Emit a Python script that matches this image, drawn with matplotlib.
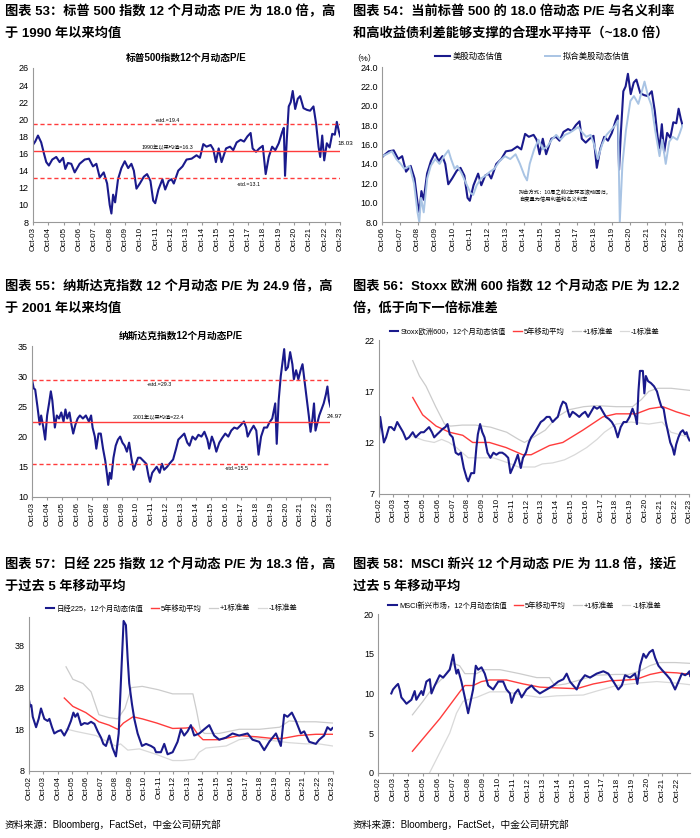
import numpy as np
import matplotlib
matplotlib.use("Agg")
import matplotlib.pyplot as plt

plt.rcParams['font.family'] = ['Liberation Sans', 'Noto Sans CJK SC', 'DejaVu Sans']
plt.rcParams['axes.unicode_minus'] = False

NAVY = '#1a1a8c'
RED = '#ff3c3c'
GREY = '#cccccc'
LBLUE = '#a9c4e4'

# ---------------- data (decimal years) ----------------
# S&P 500 12m forward P/E
spx_t = [2003.75, 2003.90, 2004.08, 2004.29, 2004.47, 2004.62, 2004.79, 2005.01, 2005.27, 2005.49,
         2005.71, 2005.86, 2006.03, 2006.25, 2006.47, 2006.79, 2007.12, 2007.40, 2007.66, 2007.88,
         2008.10, 2008.36, 2008.58, 2008.75, 2008.86, 2008.97, 2009.10, 2009.29, 2009.51, 2009.73,
         2009.95, 2010.16, 2010.32, 2010.49, 2010.71, 2010.97, 2011.18, 2011.40, 2011.58, 2011.71,
         2011.92, 2012.18, 2012.36, 2012.58, 2012.77, 2012.92, 2013.21, 2013.49, 2013.75, 2014.08,
         2014.40, 2014.62, 2014.84, 2015.05, 2015.32, 2015.49, 2015.66, 2015.84, 2016.03, 2016.32,
         2016.58, 2016.79, 2017.01, 2017.27, 2017.49, 2017.71, 2017.92, 2018.05, 2018.27, 2018.49,
         2018.71, 2018.90, 2019.10, 2019.32, 2019.53, 2019.75, 2019.97, 2020.08, 2020.16, 2020.27,
         2020.40, 2020.53, 2020.66, 2020.82, 2020.99, 2021.14, 2021.36, 2021.58, 2021.79, 2022.01,
         2022.18, 2022.34, 2022.45, 2022.58, 2022.71, 2022.88, 2023.06, 2023.23, 2023.40, 2023.53,
         2023.66, 2023.75]
spx_pe = [17.0, 17.4, 18.1, 17.3, 16.0, 15.0, 14.6, 15.3, 15.6, 15.0,
          15.5, 14.2, 14.9, 14.8, 13.8, 14.8, 15.3, 15.4, 14.5, 14.8,
          13.2, 13.8, 12.5, 10.0, 9.0, 11.2, 10.3, 13.0, 14.3, 15.1,
          14.3, 14.8, 14.0, 11.9, 12.5, 13.3, 13.6, 12.8, 10.5, 10.2,
          11.8, 13.0, 11.8, 12.8, 13.0, 12.5, 14.0, 14.5, 15.3, 15.4,
          15.8, 15.5, 17.1, 16.8, 17.0, 16.5, 15.0, 16.6, 15.0, 16.6,
          16.8, 16.4, 17.3, 17.6, 17.4, 18.0, 18.4, 16.6, 16.2, 16.6,
          16.9, 13.6, 15.6, 16.8, 16.4, 17.2, 18.5, 19.0, 13.4, 17.5,
          21.5, 22.0, 23.3, 21.2, 22.4, 22.7, 21.3, 21.1, 21.0, 21.5,
          19.5, 16.8, 15.6, 18.1, 15.2, 17.2, 16.7, 18.3, 18.2, 19.7,
          18.6, 18.0]
spx_lines = [19.4, 16.3, 13.1]

# fitted S&P 500 P/E
fit_t = [2006.75, 2007.0, 2007.3, 2007.55, 2007.8, 2008.0, 2008.3, 2008.55, 2008.75, 2008.85,
         2008.95, 2009.1, 2009.3, 2009.5, 2009.75, 2010.0, 2010.25, 2010.5, 2010.65, 2010.85,
         2011.0, 2011.25, 2011.5, 2011.75, 2011.9, 2012.1, 2012.35, 2012.6, 2012.85, 2013.1,
         2013.4, 2013.7, 2014.0, 2014.3, 2014.55, 2014.8, 2014.95, 2015.1, 2015.35, 2015.6,
         2015.85, 2016.1, 2016.35, 2016.6, 2016.85, 2017.1, 2017.35, 2017.6, 2017.85, 2018.05,
         2018.3, 2018.55, 2018.75, 2018.95, 2019.2, 2019.45, 2019.7, 2019.95, 2020.1, 2020.2,
         2020.35, 2020.55, 2020.8, 2021.0, 2021.25, 2021.45, 2021.6, 2021.8, 2022.0, 2022.2,
         2022.45, 2022.6, 2022.8, 2023.0, 2023.2, 2023.45, 2023.6, 2023.75]
fit_pe = [14.8, 15.0, 15.3, 14.5, 14.0, 13.5, 13.8, 12.0, 9.0, 8.0,
          10.5, 9.0, 12.5, 13.8, 14.5, 14.0, 14.8, 15.4, 14.5, 13.5,
          13.8, 13.0, 12.0, 11.0, 10.8, 11.8, 12.5, 12.8, 13.2, 13.5,
          14.3, 14.8, 14.5, 15.0, 14.0, 12.8, 12.3, 14.0, 15.5, 16.5,
          15.5, 15.8, 16.5, 17.0, 16.5, 17.0, 17.2, 17.5, 17.8, 17.3,
          16.8, 17.0, 16.0, 14.5, 16.0, 17.0, 17.5, 18.0, 18.5, 8.0,
          14.0, 17.5, 20.5, 21.0, 20.2, 21.5, 22.5, 21.0, 20.0, 17.5,
          14.8, 16.5, 14.0, 16.3, 16.8, 16.5, 17.2, 18.0]

# Nasdaq 12m forward P/E
ndq_t = [2003.75, 2003.85, 2003.95, 2004.1, 2004.25, 2004.35, 2004.5, 2004.62, 2004.75, 2004.88,
         2005.0, 2005.1, 2005.27, 2005.4, 2005.55, 2005.7, 2005.85, 2005.98, 2006.1, 2006.25,
         2006.38, 2006.5, 2006.65, 2006.8, 2006.95, 2007.15, 2007.35, 2007.55, 2007.7, 2007.8,
         2007.95, 2008.05, 2008.2, 2008.35, 2008.5, 2008.65, 2008.78, 2008.85, 2008.95, 2009.05,
         2009.2, 2009.35, 2009.5, 2009.65, 2009.8, 2009.95, 2010.1, 2010.25, 2010.4, 2010.55,
         2010.7, 2010.85, 2011.0, 2011.2, 2011.4, 2011.55, 2011.65, 2011.8, 2011.95, 2012.1,
         2012.3, 2012.45, 2012.6, 2012.8, 2012.95, 2013.2, 2013.4, 2013.55, 2013.75, 2013.95,
         2014.15, 2014.3, 2014.5, 2014.7, 2014.9, 2015.1, 2015.3, 2015.5, 2015.62, 2015.8,
         2015.95, 2016.1, 2016.3, 2016.5, 2016.7, 2016.9, 2017.1, 2017.3, 2017.5, 2017.7,
         2017.95, 2018.1, 2018.2, 2018.4, 2018.6, 2018.78, 2018.93, 2019.1, 2019.3, 2019.5,
         2019.65, 2019.85, 2020.05, 2020.15, 2020.28, 2020.42, 2020.55, 2020.65, 2020.75, 2020.9,
         2021.05, 2021.2, 2021.3, 2021.45, 2021.6, 2021.75, 2021.88, 2022.0, 2022.15, 2022.3,
         2022.42, 2022.55, 2022.65, 2022.75, 2022.9, 2023.0, 2023.15, 2023.3, 2023.45, 2023.55,
         2023.65, 2023.75]
ndq_pe = [29.3, 28.0, 27.8, 25.0, 22.0, 23.5, 21.5, 19.5, 23.5, 25.5,
          27.5, 26.0, 21.5, 23.5, 23.0, 24.0, 22.5, 24.5, 23.0, 24.0,
          22.0, 20.5, 22.0, 23.0, 23.5, 23.0, 23.5, 22.5, 23.5, 21.5,
          20.0, 18.0, 20.5, 20.5, 18.0, 16.0, 13.5, 12.0, 14.0, 13.0,
          16.5, 18.5, 19.5, 20.0, 19.0, 18.5, 17.5, 19.0, 16.5, 14.5,
          15.5, 16.5, 16.5, 16.0, 15.5, 13.5, 12.5, 14.0, 14.5, 15.0,
          14.0, 15.5, 14.5, 15.0, 15.5, 16.2, 18.0, 19.5, 20.0, 20.5,
          19.0, 18.5, 20.0, 19.5, 20.3, 20.0, 20.8, 19.5, 18.0, 20.0,
          19.0, 17.5, 19.0, 19.8, 20.5, 20.0, 21.0, 21.5, 21.3, 21.8,
          22.5, 21.5, 20.0, 21.0, 21.8, 21.0, 17.0, 20.0, 21.5, 21.5,
          22.3, 23.0, 25.5, 18.8, 26.0, 30.0, 32.5, 34.5, 31.0, 31.5,
          34.0, 32.0, 29.5, 31.0, 29.5, 31.0, 32.0, 29.5, 26.5, 23.5,
          20.8, 23.0, 25.5, 21.0, 22.5, 23.5, 24.5, 25.5, 27.0, 28.3,
          26.0, 24.97]
ndq_lines = [29.3, 22.4, 15.5]

# Stoxx Europe 600
sxx_t = [2002.75, 2002.85, 2002.95, 2003.1, 2003.25, 2003.45, 2003.6, 2003.8, 2004.0, 2004.2,
         2004.4, 2004.6, 2004.8, 2005.05, 2005.25, 2005.45, 2005.6, 2005.8, 2006.15, 2006.35,
         2006.5, 2006.7, 2006.85, 2007.05, 2007.25, 2007.4, 2007.55, 2007.75, 2007.95, 2008.15,
         2008.3, 2008.5, 2008.7, 2008.8, 2009.0, 2009.2, 2009.35, 2009.45, 2009.6, 2009.75,
         2009.9, 2010.1, 2010.3, 2010.5, 2010.7, 2010.9, 2011.1, 2011.3, 2011.5, 2011.65,
         2011.8, 2011.95, 2012.15, 2012.35, 2012.5, 2012.7, 2012.9, 2013.05, 2013.3, 2013.5,
         2013.7, 2013.9, 2014.1, 2014.3, 2014.5, 2014.7, 2014.85, 2015.05, 2015.2, 2015.4,
         2015.55, 2015.65, 2015.85, 2016.05, 2016.3, 2016.5, 2016.7, 2016.9, 2017.1, 2017.3,
         2017.5, 2017.7, 2017.9, 2018.1, 2018.3, 2018.5, 2018.7, 2018.9, 2019.1, 2019.3,
         2019.5, 2019.7, 2019.9, 2020.1, 2020.2, 2020.3, 2020.4, 2020.6, 2020.7, 2020.8,
         2020.95, 2021.15, 2021.35, 2021.55, 2021.7, 2021.85, 2022.0, 2022.15, 2022.3, 2022.45,
         2022.6, 2022.72, 2022.85, 2023.0, 2023.15, 2023.3, 2023.45, 2023.55, 2023.65, 2023.75]
sxx_pe = [12.3, 14.5, 13.5, 12.0, 12.5, 13.5, 13.5, 13.2, 14.0, 13.5,
          13.0, 12.3, 12.5, 13.0, 12.5, 12.8, 13.0, 13.0, 13.5, 13.0,
          12.5, 12.8, 13.0, 13.3, 13.5, 13.8, 12.8, 12.5, 11.0, 10.8,
          11.0, 9.5, 8.5, 8.2, 9.0, 9.0, 11.5, 12.8, 13.8, 13.0,
          12.5, 11.0, 10.5, 11.0, 10.8, 11.0, 11.0, 10.8, 10.5, 9.0,
          9.5, 10.0, 10.8, 9.5, 10.5, 11.0, 12.0, 12.5, 13.0, 13.5,
          14.0, 14.2, 14.5, 14.5, 14.0, 14.3, 14.5, 15.5, 16.0, 15.8,
          15.0, 14.5, 15.0, 14.8, 14.5, 14.8, 15.0, 14.5, 15.0, 15.5,
          15.3, 15.5, 15.0, 14.5, 14.3, 14.0, 13.5, 12.5, 13.5, 14.0,
          14.0, 14.5, 15.3, 14.5, 13.8, 17.0, 19.0, 19.0, 16.8, 18.5,
          18.0, 17.8, 17.5, 17.0, 16.2, 15.5, 15.3, 14.0, 13.0, 12.0,
          11.5, 10.8, 11.8, 12.5, 13.0, 13.2, 12.8, 13.0, 12.5, 12.2]
sxx_ma_t = [2005.05, 2005.72, 2006.63, 2007.53, 2008.43, 2009.1, 2010.23, 2011.36, 2012.48, 2013.05,
            2014.29, 2015.19, 2016.54, 2017.89, 2018.79, 2020.14, 2021.05, 2021.95, 2022.85, 2023.75]
sxx_ma = [16.4, 14.7, 13.6, 13.0, 12.7, 12.0, 12.0, 11.5, 10.8, 10.8,
          11.7, 12.0, 13.2, 14.5, 14.8, 14.8, 15.3, 15.5, 15.0, 14.6]
sxx_up_t = [2005.05, 2005.5, 2005.95, 2006.6, 2007.2, 2007.6, 2008.4, 2009.3, 2010.3, 2011.4,
            2012.2, 2012.6, 2013.2, 2014.0, 2014.8, 2015.6, 2016.6, 2017.5, 2018.8, 2019.9,
            2020.5, 2021.0, 2021.6, 2022.5, 2023.75]
sxx_up = [20.0, 18.5, 17.5, 15.5, 13.8, 13.6, 13.7, 13.7, 13.5, 13.0,
          12.3, 12.0, 12.5, 13.2, 14.5, 15.2, 15.5, 15.6, 15.5, 15.5,
          16.2, 17.0, 17.3, 17.3, 17.1]
sxx_dn_t = [2005.05, 2005.8, 2006.5, 2007.0, 2007.5, 2008.0, 2008.8, 2009.5, 2010.5, 2011.5,
            2012.2, 2013.3, 2013.8, 2014.5, 2015.3, 2016.0, 2016.8, 2017.5, 2018.0, 2018.8,
            2019.8, 2020.4, 2021.0, 2021.9, 2022.5, 2023.0, 2023.75]
sxx_dn = [12.6, 12.2, 12.0, 12.3, 12.0, 11.5, 10.5, 10.5, 10.5, 10.0,
          9.6, 9.6, 9.9, 10.0, 10.3, 10.8, 11.5, 12.3, 13.0, 13.8,
          14.0, 13.9, 13.8, 14.0, 13.0, 12.8, 12.5]

# Nikkei 225
nky_t = [2002.75, 2002.84, 2002.93, 2003.03, 2003.26, 2003.44, 2003.6, 2003.83, 2004.06, 2004.18,
         2004.36, 2004.52, 2004.75, 2004.98, 2005.21, 2005.44, 2005.67, 2005.84, 2005.97, 2006.13,
         2006.37, 2006.6, 2006.83, 2007.06, 2007.29, 2007.52, 2007.75, 2007.91, 2008.09, 2008.32,
         2008.55, 2008.78, 2008.97, 2009.13, 2009.31, 2009.47, 2009.59, 2009.7, 2009.89, 2010.05,
         2010.28, 2010.58, 2010.86, 2011.2, 2011.43, 2011.55, 2011.89, 2012.12, 2012.35, 2012.7,
         2013.04, 2013.27, 2013.5, 2013.73, 2013.96, 2014.19, 2014.54, 2014.88, 2015.23, 2015.57,
         2015.92, 2016.38, 2016.84, 2017.3, 2017.88, 2018.22, 2018.68, 2019.03, 2019.38, 2019.84,
         2020.18, 2020.41, 2020.64, 2020.94, 2021.22, 2021.56, 2021.79, 2022.14, 2022.6, 2022.83,
         2023.17, 2023.4, 2023.63, 2023.75]
nky_pe = [25.5, 23.5, 23.8, 21.0, 18.5, 20.5, 23.0, 20.5, 20.0, 20.5,
          18.5, 17.0, 17.5, 17.8, 16.5, 18.0, 20.0, 22.0, 21.0, 21.8,
          19.0, 19.5, 19.3, 19.8, 19.3, 17.5, 16.0, 14.5, 14.0, 16.5,
          13.5, 11.5, 17.0, 30.0, 44.0, 43.0, 35.0, 29.0, 24.0, 20.5,
          17.0, 14.0, 14.5, 14.0, 13.5, 12.5, 12.5, 14.5, 12.0, 12.5,
          15.0, 18.0, 16.5, 17.5, 19.0, 16.5, 17.0, 18.0, 19.0, 16.5,
          15.5, 16.0, 17.0, 16.5, 17.0, 15.5, 15.0, 13.0, 15.0, 17.0,
          14.0, 21.5, 21.0, 22.0, 20.0, 17.0, 17.5, 15.0, 14.5, 15.5,
          16.5, 18.5, 17.8, 18.3]
nky_ma_t = [2005.21, 2005.8, 2006.7, 2007.6, 2008.3, 2008.9, 2009.3, 2009.96, 2010.6, 2011.6,
            2012.7, 2013.6, 2014.1, 2014.5, 2014.8, 2015.9, 2017.3, 2018.5, 2019.6, 2020.3,
            2021.4, 2022.6, 2023.75]
nky_ma = [25.5, 23.5, 22.0, 19.8, 19.0, 18.0, 19.5, 21.0, 20.5, 19.5,
          18.2, 18.3, 18.5, 16.5, 15.5, 15.5, 16.5, 16.2, 15.8, 15.8,
          16.5, 16.8, 16.8]
nky_up_t = [2005.33, 2005.8, 2006.5, 2007.06, 2007.6, 2008.3, 2008.9, 2009.4, 2009.85, 2010.6,
            2011.7, 2012.7, 2013.5, 2014.1, 2014.35, 2014.6, 2014.9, 2015.9, 2017.3, 2018.7,
            2020.1, 2020.75, 2021.45, 2022.6, 2023.75]
nky_up = [33.0, 30.0, 29.0, 27.0, 21.5, 20.8, 20.5, 23.0, 28.0, 28.3,
          27.5, 26.5, 26.5, 26.5, 22.5, 18.0, 17.0, 17.0, 18.0, 18.0,
          18.5, 20.0, 19.8, 19.8, 19.5]
nky_dn_t = [2005.33, 2006.0, 2006.7, 2007.4, 2008.3, 2008.75, 2009.1, 2009.6, 2010.4, 2011.55,
            2012.7, 2013.4, 2014.2, 2014.54, 2015.0, 2016.4, 2017.3, 2018.2, 2019.6, 2020.7,
            2021.9, 2022.8, 2023.75]
nky_dn = [18.1, 17.5, 17.0, 16.5, 14.8, 14.0, 14.5, 13.0, 13.3, 12.0,
          10.5, 10.5, 10.8, 12.5, 13.5, 14.0, 15.5, 16.0, 15.3, 14.8,
          14.5, 14.5, 14.0]

# MSCI EM
em_t = [2003.64, 2003.75, 2003.98, 2004.09, 2004.2, 2004.31, 2004.53, 2004.65, 2004.98, 2005.2,
        2005.31, 2005.65, 2005.76, 2005.98, 2006.21, 2006.32, 2006.54, 2006.87, 2007.1, 2007.32,
        2007.54, 2007.77, 2007.88, 2007.99, 2008.1, 2008.32, 2008.55, 2008.77, 2008.88, 2009.1,
        2009.28, 2009.44, 2009.66, 2009.88, 2010.11, 2010.44, 2010.78, 2011.11, 2011.33, 2011.56,
        2011.67, 2011.89, 2012.11, 2012.34, 2012.67, 2013.01, 2013.23, 2013.56, 2014.01, 2014.46,
        2014.79, 2015.13, 2015.35, 2015.57, 2015.79, 2016.02, 2016.24, 2016.57, 2016.91, 2017.35,
        2017.8, 2018.13, 2018.47, 2018.8, 2019.03, 2019.25, 2019.58, 2019.92, 2020.07, 2020.25,
        2020.48, 2020.65, 2020.88, 2021.1, 2021.26, 2021.48, 2021.7, 2022.04, 2022.26, 2022.59,
        2022.82, 2023.04, 2023.26, 2023.42, 2023.55, 2023.6]
em_pe = [10.0, 10.5, 11.0, 11.2, 10.5, 9.5, 9.0, 8.7, 9.2, 10.3,
         9.2, 10.3, 9.8, 11.5, 11.8, 10.0, 11.0, 12.3, 12.0, 12.5,
         13.0, 14.9, 13.5, 12.5, 13.0, 11.5, 9.5, 7.5, 8.5, 10.5,
         13.5, 13.0, 13.3, 12.5, 11.0, 10.5, 11.5, 11.5, 10.5, 10.0,
         8.8, 10.0, 10.5, 9.5, 10.5, 11.0, 10.5, 10.0, 10.5, 11.0,
         11.5, 11.8, 12.5, 11.5, 11.0, 10.5, 11.5, 12.3, 12.0, 12.5,
         12.8, 12.5, 11.5, 10.5, 11.0, 12.3, 12.0, 12.5, 11.2, 13.5,
         15.0, 14.5, 15.2, 15.5, 14.5, 13.5, 13.0, 12.3, 11.8, 10.5,
         11.5, 12.5, 12.3, 12.5, 12.8, 12.2]
em_ma_t = [2005.05, 2005.98, 2006.87, 2007.54, 2008.21, 2008.55, 2009.1, 2009.66, 2010.22, 2011.33,
           2012.45, 2013.56, 2014.68, 2016.02, 2017.13, 2018.25, 2019.36, 2020.03, 2020.92, 2021.7,
           2022.7, 2023.6]
em_ma = [2.7, 4.8, 6.8, 8.5, 10.2, 11.0, 11.0, 11.5, 11.7, 11.7,
         11.2, 10.8, 10.7, 10.6, 11.2, 11.6, 11.7, 11.8, 12.4, 12.7,
         12.6, 12.4]
em_up_t = [2005.05, 2005.75, 2006.4, 2007.1, 2007.77, 2008.2, 2008.55, 2009.33, 2009.8, 2010.9,
           2012.2, 2013.35, 2014.2, 2014.55, 2015.3, 2016.4, 2017.3, 2018.6, 2019.5, 2020.2,
           2020.9, 2021.55, 2022.6, 2023.6]
em_up = [7.3, 9.0, 10.7, 12.0, 13.8, 13.5, 12.5, 12.5, 13.0, 13.0,
         12.5, 12.0, 12.0, 11.0, 11.2, 11.8, 12.3, 12.4, 12.4, 12.8,
         13.5, 13.9, 13.9, 13.8]
em_dn_t = [2006.2, 2006.87, 2007.54, 2007.99, 2008.43, 2008.88, 2009.33, 2010.22, 2011.33, 2012.45,
           2013.56, 2014.68, 2016.46, 2017.35, 2018.69, 2020.03, 2021.37, 2022.7, 2023.6]
em_dn = [0.0, 2.5, 5.0, 7.5, 9.0, 9.3, 9.5, 10.2, 10.2, 9.8,
         9.5, 9.7, 9.8, 10.3, 11.0, 11.3, 11.5, 11.3, 11.1]

titles = [
    ("图表 53：标普 500 指数 12 个月动态 P/E 为 18.0 倍，高", "于 1990 年以来均值"),
    ("图表 54：当前标普 500 的 18.0 倍动态 P/E 与名义利率", "和高收益债利差能够支撑的合理水平持平（~18.0 倍）"),
    ("图表 55：纳斯达克指数 12 个月动态 P/E 为 24.9 倍，高", "于 2001 年以来均值"),
    ("图表 56：Stoxx 欧洲 600 指数 12 个月动态 P/E 为 12.2", "倍，低于向下一倍标准差"),
    ("图表 57：日经 225 指数 12 个月动态 P/E 为 18.3 倍，高", "于过去 5 年移动平均"),
    ("图表 58：MSCI 新兴 12 个月动态 P/E 为 11.8 倍，接近", "过去 5 年移动平均"),
]
source = "资料来源：Bloomberg，FactSet，中金公司研究部"


def style(ax, y0, y1, yticks, fmt, first, last, xmax=None):
    ax.set_ylim(y0, y1)
    ax.set_yticks(yticks)
    ax.set_yticklabels([fmt % v for v in yticks])
    yrs = list(range(first, last + 1))
    ax.set_xticks([y + 0.75 for y in yrs])
    ax.set_xticklabels(["Oct-%02d" % (y % 100) for y in yrs], rotation=90)
    ax.set_xlim(first + 0.75, xmax if xmax else last + 0.75)
    for s in ['top', 'right']:
        ax.spines[s].set_visible(False)
    for s in ['left', 'bottom']:
        ax.spines[s].set_color('#999999')
        ax.spines[s].set_linewidth(0.8)
    ax.tick_params(axis='x', labelsize=5.8, length=2, color='#999999', pad=1.5)
    ax.tick_params(axis='y', labelsize=6.5, length=0, pad=3)


fig = plt.figure(figsize=(7, 8.38), dpi=100)

ax1 = fig.add_axes([0.047, 0.735, 0.439, 0.184])
ax2 = fig.add_axes([0.546, 0.735, 0.429, 0.185])
ax3 = fig.add_axes([0.046, 0.407, 0.426, 0.180])
ax4 = fig.add_axes([0.541, 0.411, 0.444, 0.183])
ax5 = fig.add_axes([0.041, 0.080, 0.434, 0.184])
ax6 = fig.add_axes([0.540, 0.078, 0.446, 0.189])

# 53
ax1.plot(spx_t, spx_pe, color=NAVY, lw=1.5)
ax1.axhline(spx_lines[0], color=RED, lw=1.0, ls=(0, (3, 2)))
ax1.axhline(spx_lines[1], color=RED, lw=1.0)
ax1.axhline(spx_lines[2], color=RED, lw=1.0, ls=(0, (3, 2)))
style(ax1, 8, 26, list(range(8, 27, 2)), "%d", 2003, 2023)
ax1.text(2012.5, spx_lines[0] + 0.25, "+std.=%.1f" % spx_lines[0], fontsize=3.8, ha='center')
ax1.text(2012.5, spx_lines[1] + 0.2, "1990年以来均值=%.1f" % spx_lines[1], fontsize=3.8, ha='center')
ax1.text(2017.8, spx_lines[2] - 0.9, "-std.=%.1f" % spx_lines[2], fontsize=3.8, ha='center')
ax1.text(2023.55, 17.0, "%.2f" % 18.03, fontsize=4.5)
ax1.set_title("标普500指数12个月动态P/E", fontsize=7, fontweight='bold', pad=5)

# 54
ax2.plot(spx_t, spx_pe, color=NAVY, lw=1.5, label="美股动态估值")
ax2.plot(fit_t, fit_pe, color=LBLUE, lw=1.4, label="拟合美股动态估值")
style(ax2, 8, 24, list(range(8, 25, 2)), "%.1f", 2006, 2023)
ax2.legend(loc='lower center', bbox_to_anchor=(0.5, 0.99), ncol=2, frameon=False,
           fontsize=6, handlelength=1.8, columnspacing=5, handletextpad=0.4)
ax2.text(-0.02, 1.03, "（%）", transform=ax2.transAxes, fontsize=6, ha='right', va='bottom')
ax2.text(2014.5, 10.1, "拟合方式：10周之前2年样本滚动回归，\n自变量为信用利差和名义利率",
         fontsize=3.8, linespacing=1.6)

# 55
ax3.plot(ndq_t, ndq_pe, color=NAVY, lw=1.5)
ax3.axhline(ndq_lines[0], color=RED, lw=1.0, ls=(0, (3, 2)))
ax3.axhline(ndq_lines[1], color=RED, lw=1.0)
ax3.axhline(ndq_lines[2], color=RED, lw=1.0, ls=(0, (3, 2)))
style(ax3, 10, 35, list(range(10, 36, 5)), "%d", 2003, 2023)
ax3.text(2012.3, ndq_lines[0] - 0.9, "+std.=%.1f" % ndq_lines[0], fontsize=3.8, ha='center')
ax3.text(2012.2, ndq_lines[1] + 0.4, "2001年以来均值=%.1f" % ndq_lines[1], fontsize=3.8, ha='center')
ax3.text(2017.5, ndq_lines[2] - 1.0, "-std.=%.1f" % ndq_lines[2], fontsize=3.8, ha='center')
ax3.text(2023.5, 23.1, "%.2f" % 24.97, fontsize=4.5)
ax3.set_title("纳斯达克指数12个月动态P/E", fontsize=7, fontweight='bold', pad=5)

# 56, 57, 58 share the band layout
bands = [
    (ax4, sxx_t, sxx_pe, sxx_ma_t, sxx_ma, sxx_up_t, sxx_up, sxx_dn_t, sxx_dn, "Stoxx欧洲600，12个月动态估值"),
    (ax5, nky_t, nky_pe, nky_ma_t, nky_ma, nky_up_t, nky_up, nky_dn_t, nky_dn, "日经225，12个月动态估值"),
    (ax6, em_t, em_pe, em_ma_t, em_ma, em_up_t, em_up, em_dn_t, em_dn, "MSCI新兴市场，12个月动态估值"),
]
for ax, t, v, mt, m, ut, u, dt, d, name in bands:
    ax.plot(ut, u, color=GREY, lw=0.9, label="+1标准差")
    ax.plot(dt, d, color='#d9d9d9', lw=0.9, label="-1标准差")
    ax.plot(mt, m, color=RED, lw=1.0, label="5年移动平均")
    ax.plot(t, v, color=NAVY, lw=1.5, label=name)
    h, l = ax.get_legend_handles_labels()
    order = [3, 2, 0, 1]
    ax.legend([h[i] for i in order], [l[i] for i in order], loc='lower center',
              bbox_to_anchor=(0.47, 0.985), ncol=4, frameon=False, fontsize=5.3,
              handlelength=1.2, columnspacing=1.0, handletextpad=0.25)

style(ax4, 7, 22, [7, 12, 17, 22], "%d", 2002, 2023)
style(ax5, 8, 45, [8, 18, 28, 38], "%d", 2002, 2023)
style(ax6, 0, 20, [0, 5, 10, 15, 20], "%d", 2002, 2022, xmax=2023.6)

# headings
xs = [0.007, 0.504]
ys = [(0.986, 0.960), (0.658, 0.632), (0.326, 0.300)]
for i, (a, b) in enumerate(titles):
    x = xs[i % 2]
    y1, y2 = ys[i // 2]
    fig.text(x, y1, a, fontsize=9.5, fontweight='bold', va='center')
    fig.text(x, y2, b, fontsize=9.5, fontweight='bold', va='center')

fig.text(0.007, 0.016, source, fontsize=7, va='center')
fig.text(0.504, 0.016, source, fontsize=7, va='center')

fig.savefig("out.png", dpi=100)
